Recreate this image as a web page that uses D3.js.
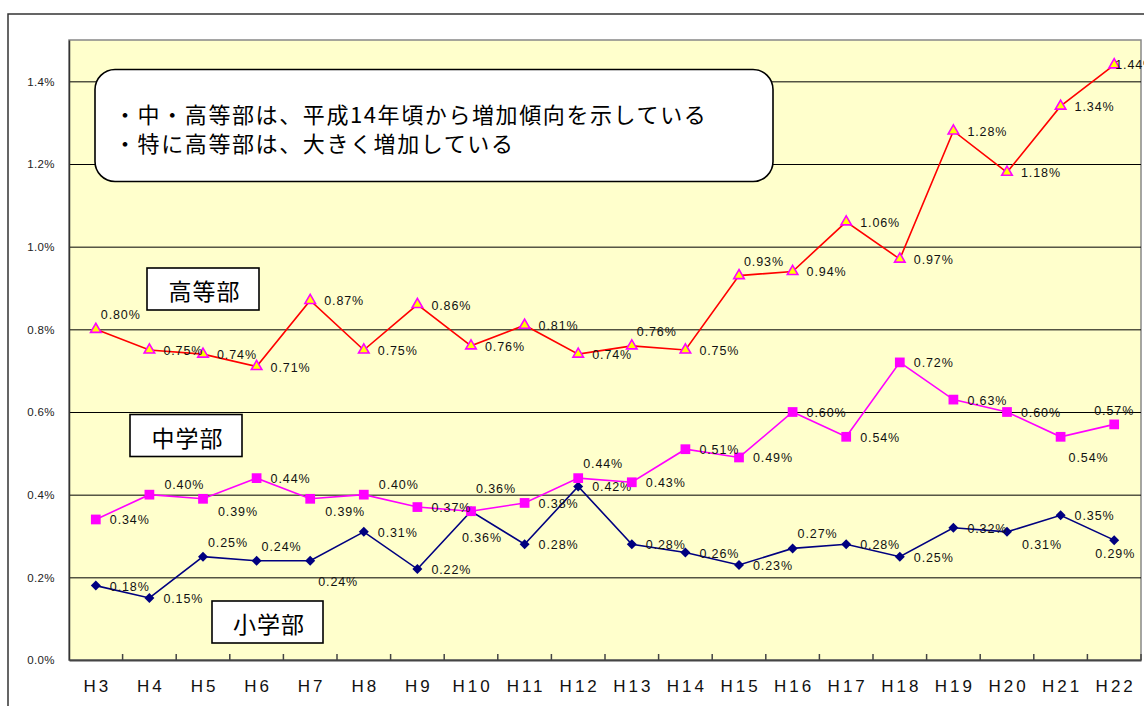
<!DOCTYPE html>
<html><head><meta charset="utf-8">
<script src="https://cdn.jsdelivr.net/npm/d3@7"></script>
<style>
html,body{margin:0;padding:0;background:#fff;overflow:hidden}
svg{display:block}
</style></head>
<body>
<svg id="c" width="1144" height="706"></svg>
<script>
// ---- data ----
const categories = ["H3","H4","H5","H6","H7","H8","H9","H10","H11","H12","H13","H14","H15","H16","H17","H18","H19","H20","H21","H22"];
const koutoubu = [0.80,0.75,0.74,0.71,0.87,0.75,0.86,0.76,0.81,0.74,0.76,0.75,0.93,0.94,1.06,0.97,1.28,1.18,1.34,1.44];
const chugakubu = [0.34,0.40,0.39,0.44,0.39,0.40,0.37,0.36,0.38,0.44,0.43,0.51,0.49,0.60,0.54,0.72,0.63,0.60,0.54,0.57];
const shougakubu = [0.18,0.15,0.25,0.24,0.24,0.31,0.22,0.36,0.28,0.42,0.28,0.26,0.23,0.27,0.28,0.25,0.32,0.31,0.35,0.29];
const yTicks = [0,0.2,0.4,0.6,0.8,1.0,1.2,1.4];
// label placement codes per point
const koutoubuPlace = ["a","r","r","r","r","r","r","r","r","r","a","r","a","r","r","r","r","r","r","o"];
const chugakubuPlace = ["r","ru","rd","r","rd","ru","r","aa","r","a","r","r","r","r","r","r","r","r","b","ac"];
const shougakubuPlace = ["r","r","a","a","b","r","r","bl","r","r","r","r","r","a","r","r","r","rd","r","bc"];
const noteLines = ["・中・高等部は、平成14年頃から増加傾向を示している","・特に高等部は、大きく増加している"];

// ---- layout ----
const svg = d3.select("#c");
const L = 69, R = 1141, T = 40, B = 660;
const x = d3.scaleBand().domain(categories).range([L, R]);
const y = d3.scaleLinear().domain([0, 1.5]).range([B, T]);
const cx = c => x(c) + x.bandwidth() / 2;
const latin = "'Liberation Sans', Arial, sans-serif";
const cjk = "'Noto Sans CJK JP', sans-serif";

// outer frame
svg.append("rect").attr("x", 8).attr("y", 14).attr("width", 1300).attr("height", 900)
  .attr("fill", "none").attr("stroke", "#333").attr("stroke-width", 1.5);

// plot background
svg.append("rect").attr("x", L).attr("y", T).attr("width", R - L).attr("height", B - T)
  .attr("fill", "#FFFFCC").attr("stroke", "#888").attr("stroke-width", 1.5);

// gridlines
svg.append("g").attr("transform", `translate(${L},0)`)
  .call(d3.axisLeft(y).tickValues(yTicks.slice(1)).tickSize(-(R - L)).tickFormat(""))
  .call(g => g.select(".domain").remove())
  .call(g => g.selectAll("line").attr("stroke", "#000").attr("stroke-width", 1));

// y axis labels
svg.append("g").attr("transform", `translate(${L},0)`)
  .call(d3.axisLeft(y).tickValues(yTicks).tickSize(0).tickPadding(14).tickFormat(d => d.toFixed(1) + "%"))
  .call(g => g.select(".domain").attr("stroke", "#333").attr("stroke-width", 1.5))
  .call(g => g.selectAll("text").attr("font-family", latin).attr("font-size", 11.5).attr("fill", "#222").attr("letter-spacing", 0.4));

// x axis
svg.append("g").attr("transform", `translate(0,${B})`)
  .call(d3.axisBottom(x).tickSize(0).tickPadding(20))
  .call(g => g.select(".domain").attr("stroke", "#444").attr("stroke-width", 2))
  .call(g => g.selectAll("text").attr("font-family", latin).attr("font-size", 17).attr("fill", "#111")
    .attr("letter-spacing", 3).attr("dx", 1.5));
// inner tick marks at category boundaries
svg.append("g").selectAll("line").data(categories.slice(1).map(c => x(c)).concat([R]))
  .join("line").attr("x1", d => d).attr("x2", d => d).attr("y1", B).attr("y2", B - 6)
  .attr("stroke", "#444").attr("stroke-width", 1.5);

// label placements
const place = {
  r:  {dx: 14, dy: 1, anchor: "start"},
  a:  {dx: 5, dy: -14, anchor: "start"},
  aa: {dx: 5, dy: -22, anchor: "start"},
  ru: {dx: 15, dy: -10, anchor: "start"},
  rd: {dx: 15, dy: 13, anchor: "start"},
  b:  {dx: 8, dy: 21, anchor: "start"},
  bl: {dx: -9, dy: 27, anchor: "start"},
  ac: {dx: 0, dy: -13, anchor: "middle"},
  bc: {dx: 1, dy: 14, anchor: "middle"},
  o:  {dx: 1, dy: 0, anchor: "start"}
};

function drawSeries(values, places, color, symbolType, symbolSize, fill, stroke, rotate) {
  const pts = values.map((v, i) => ({c: categories[i], v, p: places[i]}));
  const line = d3.line().x(d => cx(d.c)).y(d => y(d.v));
  svg.append("path").datum(pts).attr("d", line).attr("fill", "none")
    .attr("stroke", color).attr("stroke-width", 1.6);
  const sym = d3.symbol().type(symbolType).size(symbolSize);
  svg.append("g").selectAll("path").data(pts).join("path")
    .attr("d", sym)
    .attr("transform", d => `translate(${cx(d.c)},${y(d.v)}) rotate(${rotate})`)
    .attr("fill", fill).attr("stroke", stroke).attr("stroke-width", stroke === "none" ? 0 : 1.6);
  svg.append("g").selectAll("text").data(pts).join("text")
    .attr("x", d => cx(d.c) + place[d.p].dx)
    .attr("y", d => y(d.v) + place[d.p].dy)
    .attr("text-anchor", d => place[d.p].anchor)
    .attr("dominant-baseline", "central")
    .attr("font-family", latin).attr("font-size", 12.5).attr("letter-spacing", 0.9)
    .attr("fill", "#111")
    .text(d => d.v.toFixed(2) + "%");
}

drawSeries(shougakubu, shougakubuPlace, "#000080", d3.symbolSquare, 50, "#000080", "none", 45);
drawSeries(chugakubu, chugakubuPlace, "#FF00FF", d3.symbolSquare, 95, "#FF00FF", "none", 0);
drawSeries(koutoubu, koutoubuPlace, "#FF0000", d3.symbolTriangle, 48, "#FFFF00", "#FF00FF", 0);

// note box
const note = svg.append("g");
note.append("rect").attr("x", 95).attr("y", 69.5).attr("width", 678).attr("height", 112)
  .attr("rx", 20).attr("ry", 20).attr("fill", "#fff").attr("stroke", "#000").attr("stroke-width", 1.6);
note.selectAll("text").data(noteLines).join("text")
  .attr("x", 114).attr("y", (d, i) => 113 + i * 29)
  .attr("dominant-baseline", "central")
  .attr("font-family", cjk).attr("font-size", 22).attr("letter-spacing", 1.6).attr("fill", "#000")
  .text(d => d);

// series name boxes
const nameBoxes = [
  {t: "高等部", x0: 147, y0: 268, w: 112, h: 42},
  {t: "中学部", x0: 130, y0: 414.5, w: 112, h: 42},
  {t: "小学部", x0: 212, y0: 601, w: 111, h: 42}
];
const nb = svg.append("g").selectAll("g").data(nameBoxes).join("g");
nb.append("rect").attr("x", d => d.x0).attr("y", d => d.y0).attr("width", d => d.w).attr("height", d => d.h)
  .attr("fill", "#fff").attr("stroke", "#000").attr("stroke-width", 1.6);
nb.append("text").attr("x", d => d.x0 + d.w / 2 + 1.5).attr("y", d => d.y0 + d.h / 2 + 1)
  .attr("text-anchor", "middle").attr("dominant-baseline", "central")
  .attr("font-family", cjk).attr("font-size", 23).attr("letter-spacing", 1).attr("fill", "#000")
  .text(d => d.t);
</script>
</body></html>
